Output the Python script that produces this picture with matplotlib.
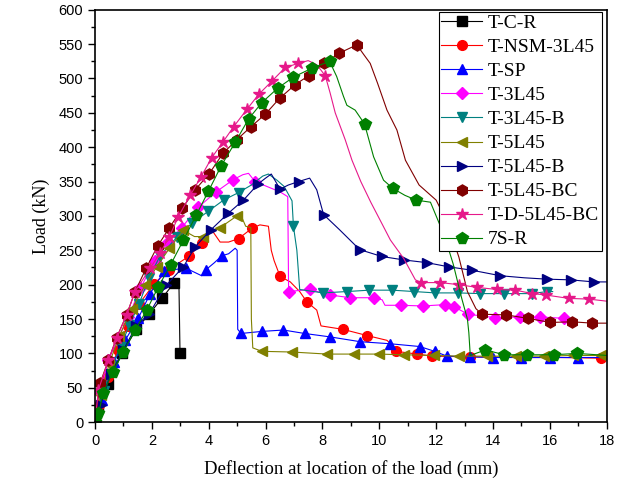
import matplotlib
matplotlib.use('Agg')
import matplotlib.pyplot as plt

# Data (deflection in mm, load in kN)
# m = 1 where a marker is drawn
tcr_x = [0, 0.12, 0.45, 0.95, 1.45, 1.9, 2.37, 2.79, 2.95, 2.99]
tcr_y = [0, 20, 55, 100, 135, 157, 181, 203, 206, 100]
tcr_m = [1, 1, 1, 1, 1, 1, 1, 1, 0, 1]

nsm_x = [0, 0.15, 0.45, 0.8, 1.15, 1.55, 2.08, 2.6, 3.29, 3.76, 4.1, 4.4, 4.7, 5.05, 5.52, 5.8,
         6.1, 6.2, 6.3, 6.51, 6.87, 7.2, 7.45, 7.8, 7.95, 8.72, 9.57, 10.27, 10.45, 10.59, 11.33,
         11.86, 13.2, 15.0, 16.4, 17.8, 18]
nsm_y = [0, 25, 65, 105, 140, 172, 201, 222, 241, 260, 280, 262, 262, 267, 282, 287,
         285, 250, 235, 212, 204, 190, 175, 163, 140, 135, 126, 119, 112, 103, 99,
         96, 95, 94, 94, 93, 93]
nsm_m = [1, 1, 1, 1, 1, 1, 1, 1, 1, 1, 0, 0, 0, 1, 1, 0,
         0, 0, 0, 1, 0, 0, 1, 0, 0, 1, 1, 0, 0, 1, 1,
         1, 1, 1, 0, 1, 0]

tsp_x = [0, 0.24, 0.67, 1.06, 1.52, 1.94, 2.44, 2.8, 3.2, 3.5, 3.75, 3.91, 4.2, 4.46, 4.7, 4.93,
         5.0, 5.02, 5.14, 5.87, 6.63, 7.37, 8.27, 9.33, 10.39, 11.42, 11.95, 12.38, 13.2, 14.0,
         15.0, 16.0, 17.0, 18]
tsp_y = [0, 32, 88, 119, 151, 187, 220, 222, 224, 218, 213, 222, 232, 242, 245, 253,
         250, 135, 129, 132, 134, 129, 124, 117, 114, 110, 103, 96, 95, 94,
         94, 94, 94, 94]
tsp_m = [1, 1, 1, 1, 1, 1, 1, 0, 1, 0, 0, 1, 0, 1, 0, 0,
         0, 0, 1, 1, 1, 1, 1, 1, 1, 1, 1, 1, 1, 1,
         1, 1, 1, 0]

t3_x = [0, 0.2, 0.47, 0.82, 1.17, 1.6, 2.1, 2.58, 3.05, 3.64, 4.26, 4.87, 5.2, 5.4, 5.63, 6.04,
        6.51, 6.78, 6.81, 7.55, 8.27, 8.98, 9.8, 10.1, 10.2, 10.76, 11.54, 12.32, 12.62, 13.12,
        14.08, 14.96, 15.67, 16.49, 16.7]
t3_y = [0, 45, 90, 122, 153, 195, 235, 262, 283, 313, 335, 353, 360, 362, 350, 343,
        335, 328, 190, 193, 185, 181, 181, 178, 170, 170, 169, 171, 168, 157,
        152, 153, 153, 151, 150]
t3_m = [1, 1, 1, 1, 1, 1, 1, 1, 1, 1, 1, 1, 0, 0, 1, 0,
        0, 0, 1, 1, 1, 1, 1, 0, 0, 1, 1, 1, 1, 1,
        1, 1, 1, 1, 0]

t3b_x = [0, 0.3, 0.6, 0.9, 1.21, 1.55, 1.9, 2.29, 2.88, 3.4, 3.99, 4.52, 5.05, 5.5, 5.9, 6.1,
         6.4, 6.65, 6.93, 6.98, 7.1, 7.2, 8.02, 8.86, 9.65, 10.45, 11.23, 11.97, 12.77, 13.56,
         14.38, 15.38, 15.9, 16.1]
t3b_y = [0, 45, 82, 110, 141, 172, 210, 242, 269, 289, 307, 323, 334, 345, 358, 361,
         352, 343, 322, 285, 250, 193, 188, 190, 192, 192, 190, 188, 188, 187,
         187, 187, 190, 190]
t3b_m = [1, 1, 1, 1, 1, 1, 1, 1, 1, 1, 1, 1, 1, 0, 0, 0,
         0, 0, 0, 1, 0, 0, 1, 1, 1, 1, 1, 1, 1, 1,
         1, 1, 1, 0]

t5_x = [0, 0.2, 0.5, 0.85, 1.3, 1.76, 2.17, 2.62, 3.11, 3.5, 3.81, 4.4, 4.99, 5.1, 5.3, 5.48,
        5.5, 5.55, 5.87, 6.93, 8.16, 9.1, 9.98, 10.86, 11.92, 12.8, 13.8, 14.8, 15.8, 16.8,
        17.8, 18]
t5_y = [0, 40, 85, 125, 165, 199, 226, 253, 279, 270, 270, 283, 300, 304, 285, 283,
        150, 108, 103, 102, 99, 99, 99, 98, 97, 96, 96, 96, 96, 97,
        97, 97]
t5_m = [1, 1, 1, 1, 1, 1, 1, 1, 1, 0, 1, 1, 1, 0, 0, 0,
        0, 0, 1, 1, 1, 1, 1, 1, 1, 1, 1, 1, 1, 1,
        1, 0]

t5b_x = [0, 0.2, 0.55, 1.0, 1.45, 1.91, 2.5, 3.11, 3.52, 4.08, 4.69, 5.22, 5.75, 6.0, 6.2, 6.51,
         6.8, 7.16, 7.55, 7.8, 8.04, 8.6, 9.31, 10.09, 10.86, 11.68, 12.44, 13.26, 14.26, 15.1,
         15.9, 16.73, 17.55, 18]
t5b_y = [0, 25, 70, 105, 140, 158, 199, 226, 255, 280, 304, 323, 347, 355, 361, 339,
         345, 350, 355, 338, 302, 280, 251, 241, 236, 232, 226, 221, 213, 210,
         208, 207, 204, 204]
t5b_m = [1, 1, 1, 1, 1, 1, 1, 1, 1, 1, 1, 1, 1, 0, 0, 1,
         0, 1, 0, 0, 1, 0, 1, 1, 1, 1, 1, 1, 1, 0,
         1, 1, 1, 0]

t5bc_x = [0, 0.18, 0.47, 0.76, 1.11, 1.41, 1.8, 2.2, 2.62, 3.07, 3.52, 4.01, 4.5, 4.99, 5.49,
          5.99, 6.49, 7.04, 7.51, 8.06, 8.6, 9.21, 9.45, 9.68, 9.94, 10.27, 10.62, 10.92, 11.4,
          12.0, 12.4, 12.8, 13.1, 13.4, 13.62, 14.47, 15.22, 16.02, 16.78, 17.49, 18]
t5bc_y = [0, 57, 90, 123, 156, 190, 224, 256, 283, 311, 338, 361, 391, 411, 430,
          448, 471, 491, 504, 522, 537, 549, 535, 522, 493, 454, 425, 381, 345,
          323, 290, 240, 190, 165, 157, 156, 151, 145, 146, 144, 144]
t5bc_m = [1, 1, 1, 1, 1, 1, 1, 1, 1, 1, 1, 1, 1, 1, 1,
          1, 1, 1, 1, 1, 1, 1, 0, 0, 0, 0, 0, 0, 0,
          0, 0, 0, 0, 0, 1, 1, 1, 1, 1, 1, 0]

td_x = [0, 0.12, 0.47, 0.76, 1.11, 1.41, 1.94, 2.29, 2.62, 2.93, 3.35, 3.73, 4.11, 4.49, 4.88,
        5.34, 5.76, 6.22, 6.69, 7.15, 7.5, 7.8, 8.1, 8.27, 8.45, 8.8, 9.04, 9.35, 9.7, 10.09,
        10.39, 10.86, 11.27, 11.48, 12.15, 12.8, 13.44, 14.14, 14.79, 15.38, 15.85, 16.67,
        17.37, 18]
td_y = [0, 47, 90, 122, 156, 190, 224, 246, 270, 299, 330, 357, 385, 407, 430,
        455, 477, 496, 516, 522, 526, 520, 504, 479, 450, 411, 381, 350, 320, 289,
        265, 238, 207, 203, 203, 200, 196, 193, 192, 187, 185, 180,
        179, 176]
td_m = [1, 1, 1, 1, 1, 1, 1, 1, 1, 1, 1, 1, 1, 1, 1,
        1, 1, 1, 1, 1, 0, 0, 1, 0, 0, 0, 0, 0, 0, 0,
        0, 0, 0, 1, 1, 1, 1, 1, 1, 1, 1, 1,
        1, 0]

s7_x = [0, 0.12, 0.29, 0.62, 1.0, 1.41, 1.82, 2.23, 2.66, 3.11, 3.56, 3.99, 4.44, 4.93, 5.4,
        5.87, 6.43, 6.98, 7.63, 8.25, 8.5, 8.74, 8.86, 9.15, 9.48, 9.8, 10.15, 10.48, 10.9,
        11.3, 11.8, 12.0, 12.3, 12.6, 12.9, 13.1, 13.15, 13.2, 13.73, 14.4, 15.2, 16.14,
        16.96, 18]
s7_y = [0, 13, 42, 73, 102, 134, 163, 197, 229, 265, 301, 336, 373, 407, 441,
        465, 486, 502, 515, 525, 503, 474, 461, 454, 434, 386, 352, 340, 330,
        323, 320, 300, 270, 230, 180, 150, 130, 97, 105, 98, 98, 98,
        100, 97]
s7_m = [1, 1, 1, 1, 1, 1, 1, 1, 1, 1, 1, 1, 1, 1, 1,
        1, 1, 1, 1, 1, 0, 0, 0, 0, 1, 0, 0, 1, 0,
        1, 0, 0, 0, 0, 0, 0, 0, 0, 1, 1, 1, 1,
        1, 0]

labels = ['T-C-R', 'T-NSM-3L45', 'T-SP', 'T-3L45', 'T-3L45-B', 'T-5L45', 'T-5L45-B',
          'T-5L45-BC', 'T-D-5L45-BC', '7S-R']

series = [(tcr_x, tcr_y, tcr_m), (nsm_x, nsm_y, nsm_m), (tsp_x, tsp_y, tsp_m),
          (t3_x, t3_y, t3_m), (t3b_x, t3b_y, t3b_m), (t5_x, t5_y, t5_m),
          (t5b_x, t5b_y, t5b_m), (t5bc_x, t5bc_y, t5bc_m), (td_x, td_y, td_m),
          (s7_x, s7_y, s7_m)]
colors = ['#000000', '#FF0000', '#0000FF', '#FF00FF', '#008080', '#808000', '#000080',
          '#800000', '#E6198A', '#008000']
markers = ['s', 'o', '^', 'D', 'v', '<', '>', 'h', '*', 'p']
msizes = [6.5, 7, 7.5, 6.5, 7.5, 7.5, 7.5, 8, 9, 8.5]

fig = plt.figure(figsize=(6.21, 4.88), dpi=100)
ax = fig.add_axes([0.153, 0.135, 0.824, 0.845])

for (x, y, m), lab, c, mk, ms in zip(series, labels, colors, markers, msizes):
    ax.plot(x, y, color=c, linewidth=0.8, marker=mk, markersize=ms,
            markevery=[bool(v) for v in m], label=lab)

ax.set_xlim(0, 18)
ax.set_ylim(0, 600)
ax.set_xticks(range(0, 19, 2))
ax.set_xticks(range(0, 19, 1), minor=True)
ax.set_yticks(range(0, 601, 50))
ax.set_yticks(range(0, 601, 25), minor=True)
ax.tick_params(which='major', direction='out', length=5, width=1,
               labelsize=10.5, top=False, right=False)
ax.tick_params(which='minor', direction='out', length=3, width=1, top=False, right=False)
for lbl in ax.get_xticklabels() + ax.get_yticklabels():
    lbl.set_family('Liberation Sans')
for sp in ax.spines.values():
    sp.set_linewidth(1.2)

ax.set_xlabel('Deflection at location of the load (mm)', family='Liberation Serif',
              fontsize=13.5, labelpad=9)
ax.set_ylabel('Load (kN)', family='Liberation Serif', fontsize=13, labelpad=6)

leg = ax.legend(loc='upper right', bbox_to_anchor=(0.99, 0.994),
                prop={'family': 'Liberation Serif', 'size': 14},
                fancybox=False, framealpha=1, edgecolor='black', handlelength=2.1,
                labelspacing=0.33, borderpad=0.12, handletextpad=0.3, borderaxespad=0)
leg.get_frame().set_linewidth(0.8)

fig.savefig('out.png', dpi=100)
